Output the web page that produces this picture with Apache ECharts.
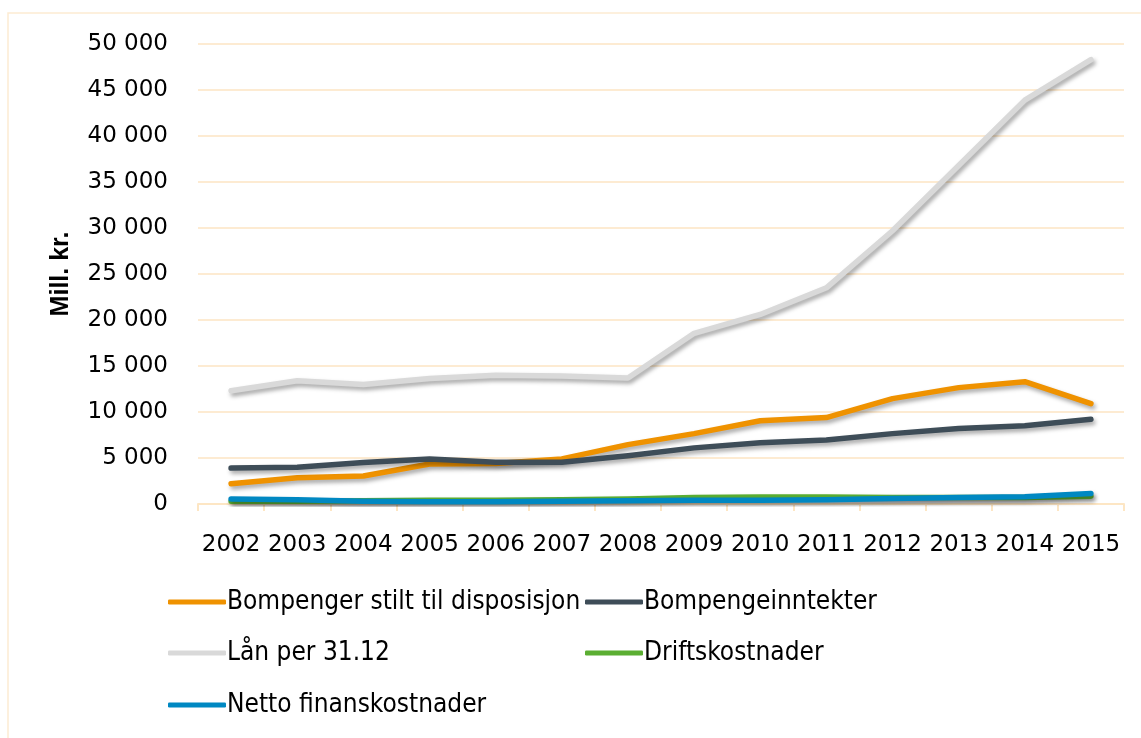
<!DOCTYPE html>
<html>
<head>
<meta charset="utf-8">
<script src="https://cdn.jsdelivr.net/npm/echarts@6/dist/echarts.min.js"></script>
<style>
html, body { margin: 0; padding: 0; background: #fff; }
#main { width: 1141px; height: 738px; }
</style>
</head>
<body>
<div id="main"></div>
<script>
var years = ['2002','2003','2004','2005','2006','2007','2008','2009','2010','2011','2012','2013','2014','2015'];
var bompengerStilt = [2200, 2850, 3050, 4350, 4400, 4900, 6450, 7650, 9050, 9400, 11450, 12650, 13300, 10900];
var bompengeinntekter = [3900, 4000, 4500, 4900, 4550, 4550, 5250, 6100, 6650, 6950, 7650, 8200, 8500, 9200];
var laan = [12300, 13400, 13000, 13650, 14000, 13900, 13700, 18550, 20600, 23500, 29700, 36800, 43900, 48300];
var drift = [300, 300, 350, 400, 400, 450, 550, 700, 750, 750, 700, 700, 700, 850];
var netto = [550, 450, 300, 250, 250, 300, 350, 400, 400, 450, 600, 700, 800, 1150];

var names = ['Bompenger stilt til disposisjon', 'Bompengeinntekter', 'Lån per 31.12', 'Driftskostnader', 'Netto finanskostnader'];
var colors = ['#EF9200', '#3E4D58', '#D9D9D9', '#5BAE32', '#0088C2'];

var myChart = echarts.init(document.getElementById('main'));

function makeSeries(i, data) {
	return {
		name: names[i],
		type: 'line',
		data: data,
		symbol: 'none',
		smooth: false,
		lineStyle: {
			width: 5.5,
			color: colors[i],
			cap: 'round',
			join: 'round',
			shadowColor: 'rgba(0,0,0,0.35)',
			shadowBlur: 4,
			shadowOffsetX: 2,
			shadowOffsetY: 3
		},
		itemStyle: { color: colors[i] }
	};
}

// legend laid out as a two-column grid
var legendPos = [[168, 589], [585, 589], [168, 640], [585, 640], [168, 692]];
var legends = names.map(function (n, i) {
	return {
		data: [n],
		left: legendPos[i][0],
		top: legendPos[i][1],
		icon: 'roundRect',
		itemWidth: 58,
		itemHeight: 5,
		padding: 0,
		selectedMode: false,
		textStyle: { fontFamily: 'DejaVu Sans Condensed', fontSize: 26, color: '#000', padding: [0, 0, 0, -4] }
	};
});

var option = {
	animation: false,
	color: colors,
	graphic: [{
		type: 'rect',
		shape: { x: 8, y: 13, width: 1200, height: 800 },
		style: { fill: 'none', stroke: '#FDEBD2', lineWidth: 1.5 }
	}],
	legend: legends,
	grid: { left: 198, right: 17, top: 44, bottom: 234 },
	xAxis: {
		type: 'category',
		data: years,
		boundaryGap: true,
		axisLine: { lineStyle: { color: '#FDE6C4', width: 2 } },
		axisTick: { show: true, length: 7, lineStyle: { color: '#FDE6C4', width: 2 } },
		axisLabel: { interval: 0, color: '#000', fontFamily: 'DejaVu Sans', fontSize: 23, margin: 30 }
	},
	yAxis: {
		type: 'value',
		min: 0,
		max: 50000,
		interval: 5000,
		name: 'Mill. kr.',
		nameLocation: 'middle',
		nameRotate: 90,
		nameGap: 124,
		nameTextStyle: { fontFamily: 'Liberation Sans', fontWeight: 'bold', fontSize: 25, color: '#000' },
		axisLine: { show: false },
		axisTick: { show: false },
		splitLine: { lineStyle: { color: '#FDEBD2', width: 2 } },
		axisLabel: {
			color: '#000',
			fontFamily: 'DejaVu Sans',
			fontSize: 23,
			margin: 30,
			formatter: function (v) {
				if (v === 0) return '0';
				var s = String(v);
				return s.slice(0, s.length - 3) + ' ' + s.slice(-3);
			}
		}
	},
	series: [
		makeSeries(2, laan),
		makeSeries(0, bompengerStilt),
		makeSeries(1, bompengeinntekter),
		makeSeries(3, drift),
		makeSeries(4, netto)
	]
};

myChart.setOption(option);
</script>
</body>
</html>
